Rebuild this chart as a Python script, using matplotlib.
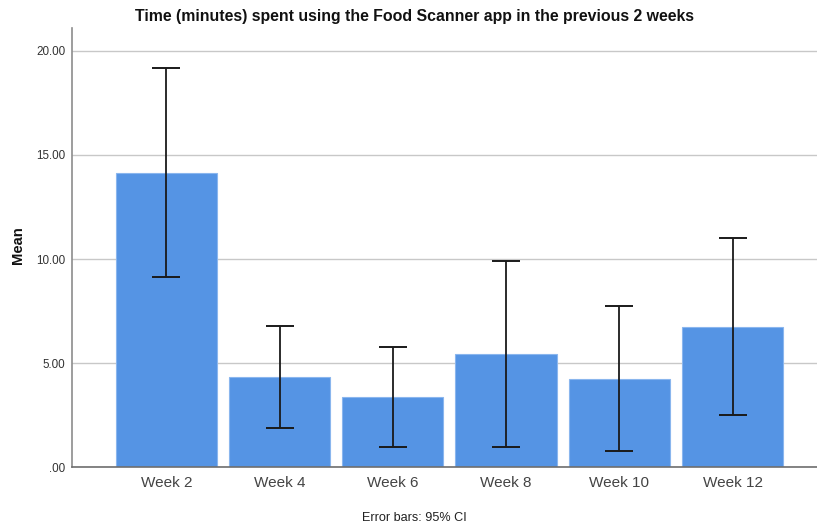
import matplotlib
matplotlib.use("Agg")
import matplotlib.pyplot as plt
from matplotlib.ticker import FuncFormatter, FixedLocator

plt.rcParams['font.family'] = ['Liberation Sans', 'DejaVu Sans']

# Mean minutes per measurement week with 95% CI bounds
weeks = ["Week 2", "Week 4", "Week 6", "Week 8", "Week 10", "Week 12"]
means = [14.13, 4.33, 3.37, 5.43, 4.23, 6.73]
ci_low = [9.15, 1.90, 0.98, 0.96, 0.78, 2.50]
ci_high = [19.15, 6.78, 5.77, 9.92, 7.74, 11.02]
y_ticks = [0, 5, 10, 15, 20]

W, H = 817, 528
fig = plt.figure(figsize=(W / 100, H / 100), dpi=100)
ax = fig.add_axes([72.3 / W, 1 - 467.3 / H, (816.5 - 72.3) / W, (467.3 - 28) / H])

x = list(range(len(weeks)))
ax.bar(x, means, width=0.894, color="#5594e4", edgecolor="#8ab6ee",
       linewidth=0.8, zorder=2)

err_lo = [m - lo for m, lo in zip(means, ci_low)]
err_hi = [hi - m for m, hi in zip(means, ci_high)]
ax.errorbar(x, means, yerr=[err_lo, err_hi], fmt="none", ecolor="#1a1a1a",
            elinewidth=1.3, capsize=10, capthick=1.4, zorder=3)

ax.set_xlim(-0.832, 5.742)
ax.set_ylim(0, 21.09)
ax.yaxis.set_major_locator(FixedLocator(y_ticks))


def fmt(v, pos):
    s = f"{v:.2f}"
    return s[1:] if s.startswith("0") else s


ax.yaxis.set_major_formatter(FuncFormatter(fmt))
ax.grid(axis="y", color="#c8c8c8", linewidth=1.0, zorder=0)
ax.set_axisbelow(True)

ax.set_xticks(x)
ax.set_xticklabels(weeks, fontsize=11, color="#444444")
ax.tick_params(axis="x", length=0, pad=6)
ax.tick_params(axis="y", length=0, pad=5, labelsize=8.4, colors="#333333")

for side in ("top", "right"):
    ax.spines[side].set_visible(False)
ax.spines["left"].set_color("#8c8c8c")
ax.spines["left"].set_linewidth(1.2)
ax.spines["bottom"].set_color("#6e6e6e")
ax.spines["bottom"].set_linewidth(1.2)

fig.text(415 / W, 1 - 17 / H,
         "Time (minutes) spent using the Food Scanner app in the previous 2 weeks",
         ha="center", va="center", fontsize=11.4, fontweight="bold", color="#111111")
fig.text(18 / W, 1 - 245 / H, "Mean", rotation=90, ha="center", va="center",
         fontsize=10.6, fontweight="bold", color="#111111")
fig.text(414 / W, 1 - 518 / H, "Error bars: 95% CI", ha="center", va="center",
         fontsize=9.1, color="#222222")

fig.savefig("out.png", dpi=100)
